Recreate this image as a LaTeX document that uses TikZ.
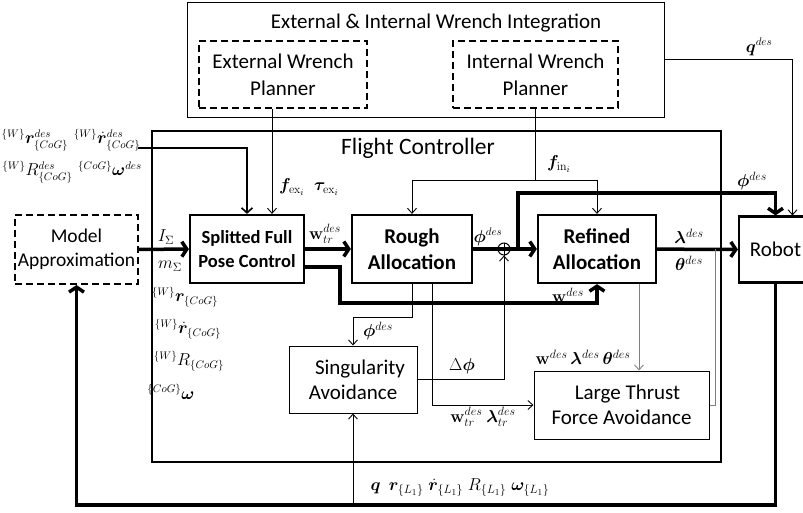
\documentclass[tikz,border=0pt]{standalone}
\usepackage{amsmath}
\usepackage{bm}
\usepackage[no-math]{fontspec}
\setmainfont{Carlito}
\usetikzlibrary{arrows.meta,calc}
\begin{document}
\begin{tikzpicture}[x=1pt,y=-1pt,
  txt/.style={font=\fontsize{21}{25}\selectfont, align=center},
  box/.style={draw, line width=1pt, inner sep=0pt, txt},
  bbox/.style={draw, line width=2.2pt, inner sep=0pt, align=center, font=\bfseries\fontsize{21}{26}\selectfont},
  dbox/.style={draw, line width=2pt, dash pattern=on 7pt off 4pt, inner sep=0pt, align=center, font=\fontsize{21}{27}\selectfont},
  ml/.style={font=\fontsize{18}{21}\selectfont, inner sep=0pt},
  sl/.style={font=\fontsize{16}{19}\selectfont, inner sep=0pt},
  ln/.style={line width=0.9pt},
  lna/.style={ln, -{Straight Barb[length=5pt,width=9pt]}},
  tk/.style={line width=3.5pt},
  tka/.style={tk, -{Straight Barb[length=5pt,width=15pt]}},
  gra/.style={lna, draw=black!50},
]
\useasboundingbox (0,0) rectangle (803,512);

% containers
\node[draw, line width=2.5pt, minimum width=569pt, minimum height=331pt, inner sep=0pt] (fc) at (436.5,296.5) {};
\node[txt, font=\fontsize{23.5}{28}\selectfont] (fct) at (418,148) {Flight Controller};
\node[draw, line width=1pt, minimum width=477pt, minimum height=115pt, inner sep=0pt] (top) at (425.5,59.5) {};
\node[txt] (topt) at (436,23) {External \& Internal Wrench Integration};

% blocks
\node[dbox, minimum width=168pt, minimum height=67pt] (ewp) at (283,74.5) {External Wrench\\Planner};
\node[dbox, minimum width=165pt, minimum height=67pt] (iwp) at (535.5,74.5) {Internal Wrench\\Planner};
\node[dbox, minimum width=123pt, minimum height=69pt, font=\fontsize{19.5}{24}\selectfont] (ma) at (76.5,249.5) {Model\\Approximation};
\node[bbox, minimum width=114pt, minimum height=68pt, font=\bfseries\fontsize{18.5}{24}\selectfont] (sfpc) at (247,249) {Splitted Full\\Pose Control};
\node[bbox, minimum width=120pt, minimum height=68pt] (ra) at (412,249) {Rough\\Allocation};
\node[bbox, minimum width=118pt, minimum height=68pt] (rf) at (597,249) {Refined\\Allocation};
\node[draw, line width=2.2pt, minimum width=73pt, minimum height=66pt, inner sep=0pt, txt] (rob) at (775.5,249.5) {Robot};
\node[box, minimum width=128pt, minimum height=67pt] (sa) at (353,379.5) {\hspace*{14pt}Singularity\\Avoidance};
\node[box, minimum width=175pt, minimum height=68pt] (lt) at (621.5,405) {\hspace*{12pt}Large Thrust\\Force Avoidance};
\node[circle, draw, line width=1pt, minimum size=12pt, inner sep=0pt] (sum) at (504,249) {};
\draw[line width=1pt] (sum.north) -- (sum.south);

% free ends / junctions
\coordinate (in1) at (138,148);
\coordinate (fj) at (535.5,180);
\coordinate (br) at (518,249);
\coordinate (fb) at (353,505);
\coordinate (lj) at (715,249);

% connectors
\draw[tka] (ma) -- (sfpc);
\draw[line width=1.6pt, -{Straight Barb[length=5pt,width=11pt]}] (in1) -| (sfpc.north);
\draw[lna] ([xshift=-11pt]ewp.south) -- ([xshift=25pt]sfpc.north);
\draw[tka] (sfpc) -- (ra);
\draw[tka] ([yshift=-18pt]sfpc.east) -| (340,303) -| (rf.south);
\draw[tk] (ra) -- (sum);
\draw[tk] (sum.west) -- (sum.east);
\draw[tka] (sum) -- (rf);
\draw[tka] (br) -- (518,193) -| (rob.north);
\draw[tka] (rf) -- (rob);
\draw[lna] (top.east) -| ([xshift=17pt]rob.north);
\draw[ln] (iwp.south) -- (fj);
\draw[lna] (fj) -| (ra.north);
\draw[lna] (fj) -| (rf.north);
\draw[lna] (ra.south) -- (412,317) -| (sa.north);
\draw[lna] ([xshift=20pt]ra.south) |- (lt.west);
\draw[lna] (sa.east) -| (sum.south);
\draw[gra] ([xshift=42pt]rf.south) -- ([xshift=17.5pt]lt.north);
\draw[ln, draw=black!50] (lt.east) -| (lj);
\draw[tka] (rob.south) |- (fb) -| (ma.south);
\draw[lna] (fb) -- (sa.south);

% labels
\node[sl] (lq) at (759,47) {$\boldsymbol{q}^{des}$};
\node[ml] (lfin) at (559,164) {$\boldsymbol{f}_{\mathrm{in}_i}$};
\node[ml] (lphi1) at (752,181) {$\boldsymbol{\phi}^{des}$};
\node[sl] (lphi2) at (488,237) {$\boldsymbol{\phi}^{des}$};
\node[ml] (lwtr) at (325,234) {$\mathbf{w}_{tr}^{des}$};
\node[ml] (lfex) at (309,187) {$\boldsymbol{f}_{\mathrm{ex}_i}\;\;\boldsymbol{\tau}_{\mathrm{ex}_i}$};
\node[ml] (lw) at (568,295) {$\mathbf{w}^{des}$};
\node[ml] (llam) at (689,236) {$\boldsymbol{\lambda}^{des}$};
\node[ml] (lth) at (689,263) {$\boldsymbol{\theta}^{des}$};
\node[ml] (lwlt) at (583,357) {$\mathbf{w}^{des}\,\boldsymbol{\lambda}^{des}\,\boldsymbol{\theta}^{des}$};
\node[ml] (ldphi) at (462,366) {$\Delta\boldsymbol{\phi}$};
\node[ml] (lwtrl) at (483,417) {$\mathbf{w}_{tr}^{des}\ \boldsymbol{\lambda}_{tr}^{des}$};
\node[ml] (lphi3) at (378,331) {$\boldsymbol{\phi}^{des}$};
\node[ml] (lfb) at (460,488) {$\boldsymbol{q}\ \ \boldsymbol{r}_{\{L_1\}}\;\dot{\boldsymbol{r}}_{\{L_1\}}\;R_{\{L_1\}}\;\boldsymbol{\omega}_{\{L_1\}}$};
\node[ml] (lI) at (166,237) {$I_\Sigma$};
\node[ml] (lm) at (170,266) {$m_\Sigma$};
\node[sl] (lr) at (185,297) {${}^{\{W\}}\boldsymbol{r}_{\{CoG\}}$};
\node[sl] (lrd) at (188,329) {${}^{\{W\}}\dot{\boldsymbol{r}}_{\{CoG\}}$};
\node[sl] (lR) at (189,361) {${}^{\{W\}}R_{\{CoG\}}$};
\node[sl] (lom) at (171,392) {${}^{\{CoG\}}\boldsymbol{\omega}$};
\node[sl] (lin1) at (71,140) {${}^{\{W\}}\boldsymbol{r}^{des}_{\{CoG\}}\,\,{}^{\{W\}}\dot{\boldsymbol{r}}^{des}_{\{CoG\}}$};
\node[sl] (lin2) at (72,172) {${}^{\{W\}}R^{des}_{\{CoG\}}\,\,{}^{\{CoG\}}\boldsymbol{\omega}^{des}$};
\end{tikzpicture}
\end{document}
